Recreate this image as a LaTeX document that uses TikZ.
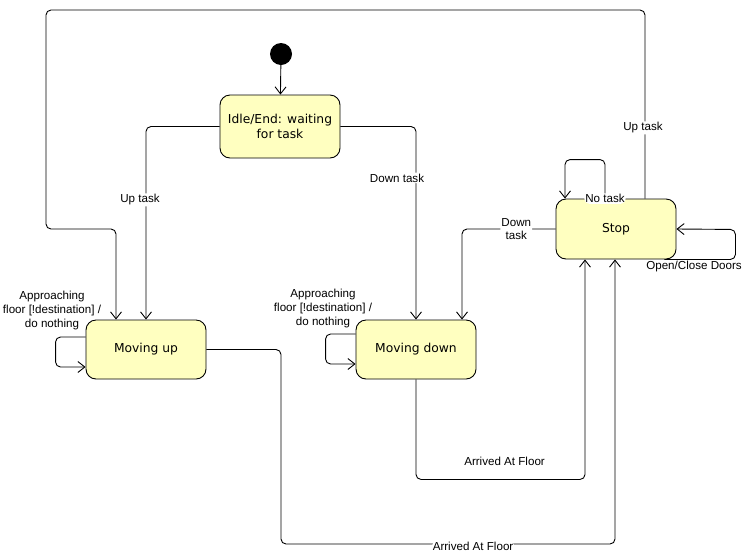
\documentclass[tikz,border=0pt]{standalone}
\usepackage{fontspec}
\setmainfont{Liberation Sans}
\newfontfamily\statefont{DejaVu Sans}
\usetikzlibrary{arrows.meta}
\definecolor{statefill}{HTML}{FFFFC0}
\begin{document}
\begin{tikzpicture}[x=1pt,y=-1pt,
  statebox/.style={draw=black, line width=0.9pt, fill=statefill, rounded corners=10pt,
    minimum width=120pt, inner sep=0pt, align=center,
    font=\statefont\fontsize{12.3}{14.5}\selectfont},
  tr/.style={draw=black, line width=0.9pt, rounded corners=5pt,
    -{Straight Barb[length=7pt,width=11pt]}},
  lbl/.style={fill=white, inner sep=1pt, align=center,
    font=\fontsize{11.6}{13.8}\selectfont},
  freelbl/.style={inner sep=1pt, align=center,
    font=\fontsize{11.6}{13.8}\selectfont}]
\useasboundingbox (0,0) rectangle (746,555);

% states
\node[circle, fill=black, minimum size=22pt, inner sep=0pt] (init) at (281,54) {};
\node[statebox, minimum height=63pt] (idle) at (280,126.5) {Idle/End: waiting\\for task};
\node[statebox, minimum height=60pt] (stop) at (616,229) {Stop};
\node[statebox, minimum height=59pt] (up) at (146,349.5) {Moving up};
\node[statebox, minimum height=59pt] (down) at (416,349.5) {Moving down};

% initial transition
\draw[tr] (init) -- (idle);

% from idle
\draw[tr] (idle.west) -| node[lbl, pos=0.69, xshift=-6pt] {Up task} (up.north);
\draw[tr] (idle.east) -| node[lbl, pos=0.633, xshift=-19pt] {Down task} (down.north);

% from stop
\draw[tr] ([xshift=29pt]stop.north) -- node[lbl, pos=0.375, xshift=-2pt] {Up task} (645,10)
  -- (46,10) -- (46,229) -- (116,229) -- ([xshift=-30pt]up.north);
\draw[tr] (stop.west) -| node[lbl, pos=0.21] {Down\\task} ([xshift=46pt]down.north);
\draw[tr] ([xshift=-11pt]stop.north) node[lbl] {No task} -- ++(0,-39) -- ++(-40,0)
  -- ([xshift=-51pt]stop.north);
\draw[tr] ([xshift=-12pt]stop.south east) -- ++(71,0) -- ++(0,-30) -- (stop.east);
\node[freelbl, anchor=north] (doorslbl) at (694,260) {Open/Close Doors};

% self loops on moving states
\draw[tr] ([yshift=12.5pt]up.west) -- ++(-30,0) -- ++(0,30) -- ([yshift=-17.5pt]up.west);
\node[freelbl] (uplbl) at (52,310.5) {Approaching\\floor [!destination] /\\do nothing};
\draw[tr] ([yshift=15.5pt]down.west) -- ++(-30,0) -- ++(0,30) -- ([yshift=-14.5pt]down.west);
\node[freelbl] (downlbl) at (323,308.5) {Approaching\\floor [!destination] /\\do nothing};

% arrivals
\draw[tr] (down.south) -- ++(0,100) -| node[freelbl, pos=0.262, yshift=18pt] {Arrived At Floor}
  ([xshift=-31pt]stop.south);
\draw[tr] (up.east) -- (281,349.5) -- (281,544)
  -- node[lbl, pos=0.575, yshift=-2.5pt] {Arrived At Floor} (615,544)
  -- ([xshift=-1pt]stop.south);
\end{tikzpicture}
\end{document}
